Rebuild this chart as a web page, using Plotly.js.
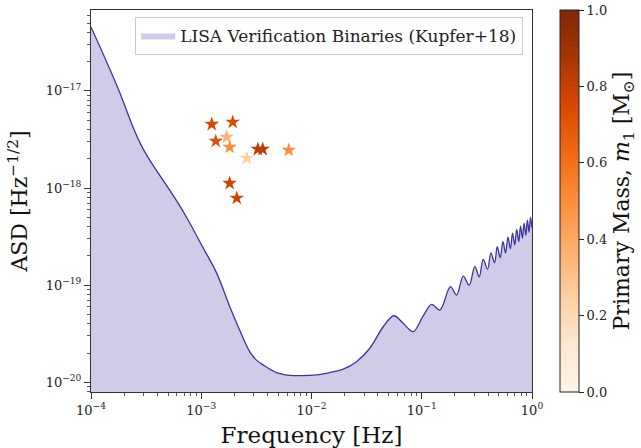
<!DOCTYPE html>
<html>
<head>
<meta charset="utf-8">
<script src="https://cdn.plot.ly/plotly-3.0.1.min.js"></script>
<style>html,body{margin:0;padding:0;background:#fff}#chart{width:641px;height:448px}</style>
</head>
<body>
<div id="chart"></div>
<script>
// LISA sensitivity curve
const freq = [1e-4, 1.76e-4, 2.44e-4, 2.88e-4, 3.41e-4, 5.18e-4, 6.25e-4, 7.87e-4, 1.03e-3, 1.38e-3, 1.82e-3,
  2.23e-3, 2.75e-3, 3.17e-3, 3.64e-3, 4.81e-3, 6.35e-3, 8.34e-3, 1.11e-2, 1.47e-2, 1.92e-2, 2.56e-2, 3.38e-2,
  4.47e-2, 5.58e-2, 6.75e-2, 8.36e-2, 0.102, 0.123, 0.146, 0.182, 0.207, 0.238,
  0.269, 0.303, 0.332, 0.361, 0.395, 0.424, 0.458, 0.484, 0.515, 0.545,
  0.576, 0.605, 0.637, 0.666, 0.698, 0.726, 0.759, 0.787, 0.819, 0.847,
  0.880, 0.908, 0.941, 0.968, 1.0];
const asd = [4.55e-17, 1.06e-17, 4.08e-18, 2.70e-18, 1.94e-18, 9.5e-19, 6.82e-19, 4.36e-19, 2.47e-19, 1.33e-19, 5.96e-20,
  3.45e-20, 2.07e-20, 1.69e-20, 1.51e-20, 1.26e-20, 1.18e-20, 1.17e-20, 1.19e-20, 1.26e-20, 1.36e-20, 1.63e-20, 2.24e-20,
  3.73e-20, 4.84e-20, 4.07e-20, 3.32e-20, 4.73e-20, 6.34e-20, 5.55e-20, 9.64e-20, 7.91e-20, 1.24e-19,
  1.00e-19, 1.55e-19, 1.22e-19, 1.84e-19, 1.46e-19, 2.15e-19, 1.70e-19, 2.49e-19, 1.92e-19, 2.81e-19,
  2.14e-19, 3.12e-19, 2.37e-19, 3.43e-19, 2.60e-19, 3.74e-19, 2.82e-19, 4.05e-19, 3.05e-19, 4.36e-19,
  3.27e-19, 4.68e-19, 3.50e-19, 4.99e-19, 3.90e-19];

// Verification binaries
const binFreq = [1.245e-3, 1.93e-3, 1.354e-3, 1.70e-3, 1.81e-3, 2.59e-3, 3.26e-3, 3.61e-3, 6.22e-3, 1.81e-3, 2.10e-3];
const binASD  = [4.54e-18, 4.77e-18, 3.04e-18, 3.34e-18, 2.64e-18, 2.03e-18, 2.51e-18, 2.51e-18, 2.46e-18, 1.12e-18, 7.87e-19];
const binMass = [0.76, 0.74, 0.72, 0.35, 0.5, 0.25, 0.82, 0.82, 0.5, 0.78, 0.78];

const xTickVals = [1e-4, 1e-3, 1e-2, 1e-1, 1];
const xTickText = ['10<sup>−4</sup>', '10<sup>−3</sup>', '10<sup>−2</sup>', '10<sup>−1</sup>', '10<sup>0</sup>'];
const yTickVals = [1e-20, 1e-19, 1e-18, 1e-17];
const yTickText = ['10<sup>−20</sup>', '10<sup>−19</sup>', '10<sup>−18</sup>', '10<sup>−17</sup>'];
const cbTickVals = [0, 0.2, 0.4, 0.6, 0.8, 1.0];
const cbTickText = ['0.0', '0.2', '0.4', '0.6', '0.8', '1.0'];

const oranges = [[0, '#fff5eb'], [0.125, '#fee6ce'], [0.25, '#fdd0a2'], [0.375, '#fdae6b'], [0.5, '#fd8d3c'],
  [0.625, '#f16913'], [0.75, '#d94801'], [0.875, '#a63603'], [1, '#7f2704']];

const serif = 'DejaVu Serif, serif';
const lineCol = 'rgb(62,52,160)';

const traces = [
  {x: freq, y: asd, type: 'scatter', mode: 'lines', fill: 'tozeroy',
   fillcolor: 'rgba(62,52,160,0.25)', line: {width: 0, shape: 'spline', smoothing: 1},
   name: 'LISA Verification Binaries (Kupfer+18)', showlegend: true, hoverinfo: 'skip'},
  {x: freq, y: asd, type: 'scatter', mode: 'lines',
   line: {color: lineCol, width: 1.3, shape: 'spline', smoothing: 1}, showlegend: false},
  {x: binFreq, y: binASD, type: 'scatter', mode: 'markers', showlegend: false,
   marker: {symbol: 'star', size: 11, color: binMass, cmin: 0, cmax: 1, colorscale: oranges,
     line: {width: 0},
     showscale: true,
     colorbar: {x: 1.0635, xanchor: 'left', xref: 'paper', xpad: 0, ypad: 0,
       y: 0.5, yanchor: 'middle', len: 1, lenmode: 'fraction',
       thickness: 19, thicknessmode: 'pixels', outlinewidth: 1, outlinecolor: '#222',
       ticks: 'outside', ticklen: 5, tickcolor: '#222', tickvals: cbTickVals, ticktext: cbTickText,
       tickfont: {family: serif, size: 13, color: '#222'},
       title: {text: 'Primary Mass, <i>m</i><sub>1</sub> [M<sub>⊙</sub>]', side: 'right',
         font: {family: serif, size: 22, color: '#111'}}}}}
];

const layout = {
  width: 641, height: 448,
  margin: {l: 91, r: 109, t: 10, b: 56, autoexpand: false},
  paper_bgcolor: '#fff', plot_bgcolor: '#fff',
  font: {family: serif, color: '#222'},
  xaxis: {type: 'log', range: [-4, 0], tickvals: xTickVals, ticktext: xTickText,
    ticks: 'outside', ticklen: 6, tickcolor: '#333', showgrid: false, zeroline: false,
    showline: true, mirror: true, linecolor: '#333', linewidth: 1,
    tickfont: {family: serif, size: 13, color: '#222'},
    minor: {ticks: 'outside', ticklen: 3, tickcolor: '#555', dtick: 'D1', showgrid: false},
    title: {text: 'Frequency [Hz]', font: {family: serif, size: 23, color: '#111'}, standoff: 10}},
  yaxis: {type: 'log', range: [-20.1, -16.167], tickvals: yTickVals, ticktext: yTickText,
    ticks: 'outside', ticklen: 6, tickcolor: '#333', showgrid: false, zeroline: false,
    showline: true, mirror: true, linecolor: '#333', linewidth: 1,
    tickfont: {family: serif, size: 13, color: '#222'},
    minor: {ticks: 'outside', ticklen: 3, tickcolor: '#555', dtick: 'D1', showgrid: false},
    title: {text: 'ASD [Hz<sup>−1/2</sup>]', font: {family: serif, size: 22, color: '#111'}, standoff: 11}},
  legend: {x: 0.98, xanchor: 'right', y: 0.982, yanchor: 'top', bgcolor: '#fff', itemwidth: 34,
    bordercolor: '#ccc', borderwidth: 1, font: {family: serif, size: 17, color: '#222'}},
  showlegend: true
};

Plotly.newPlot('chart', traces, layout, {displayModeBar: false, staticPlot: true});
</script>
</body>
</html>
